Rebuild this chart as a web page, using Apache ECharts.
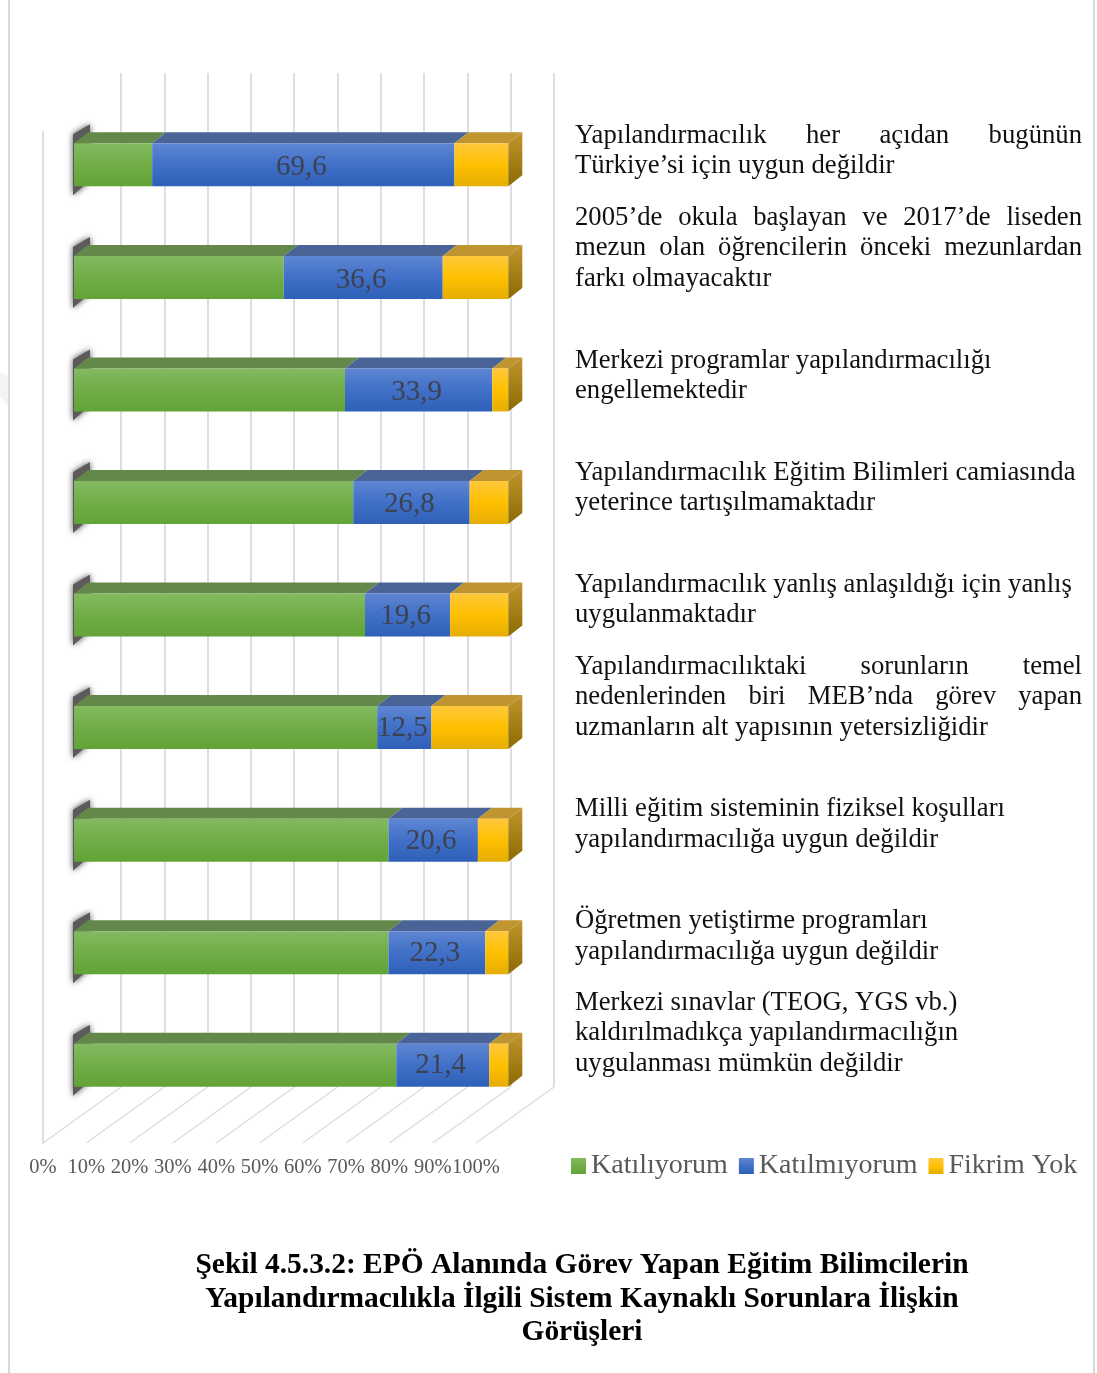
<!DOCTYPE html>
<html>
<head>
<meta charset="utf-8">
<style>
  html, body { margin: 0; padding: 0; background: #fff; }
  #main { width: 1097px; height: 1373px; }
</style>
</head>
<body>
<div id="main"></div>
<script src="https://cdn.jsdelivr.net/npm/echarts@6/dist/echarts.min.js"></script>
<script>
const categories = [
  'Yapılandırmacılık her açıdan bugünün Türkiye’si için uygun değildir',
  '2005’de okula başlayan ve 2017’de liseden mezun olan öğrencilerin önceki mezunlardan farkı olmayacaktır',
  'Merkezi programlar yapılandırmacılığı engellemektedir',
  'Yapılandırmacılık Eğitim Bilimleri camiasında yeterince tartışılmamaktadır',
  'Yapılandırmacılık yanlış anlaşıldığı için yanlış uygulanmaktadır',
  'Yapılandırmacılıktaki sorunların temel nedenlerinden biri MEB’nda görev yapan uzmanların alt yapısının yetersizliğidir',
  'Milli eğitim sisteminin fiziksel koşulları yapılandırmacılığa uygun değildir',
  'Öğretmen yetiştirme programları yapılandırmacılığa uygun değildir',
  'Merkezi sınavlar (TEOG, YGS vb.) kaldırılmadıkça yapılandırmacılığın uygulanması mümkün değildir'
]
const agree = [18, 48.3, 62.4, 64.3, 67, 69.8, 72.4, 72.4, 74.2]
const disagree = [69.6, 36.6, 33.9, 26.8, 19.6, 12.5, 20.6, 22.3, 21.4]
const noIdea = [12.4, 15.1, 3.7, 8.9, 13.4, 17.7, 7, 5.3, 4.4]
const seriesNames = ['Katılıyorum', 'Katılmıyorum', 'Fikrim Yok']
const ticks = [0, 10, 20, 30, 40, 50, 60, 70, 80, 90, 100]
const titleLines = [
  'Şekil 4.5.3.2: EPÖ Alanında Görev Yapan Eğitim Bilimcilerin',
  'Yapılandırmacılıkla İlgili Sistem Kaynaklı Sorunlara İlişkin',
  'Görüşleri'
]
// lines as broken in the figure, [text, y, justified]
const labelLines = [
  ['Yapılandırmacılık her açıdan bugünün', 135.5, true],
  ['Türkiye’si için uygun değildir', 165.5, false],
  ['2005’de okula başlayan ve 2017’de liseden', 217.5, true],
  ['mezun olan öğrencilerin önceki mezunlardan', 247.5, true],
  ['farkı olmayacaktır', 278.5, false],
  ['Merkezi programlar yapılandırmacılığı', 360.5, false],
  ['engellemektedir', 390.5, false],
  ['Yapılandırmacılık Eğitim Bilimleri camiasında', 472.5, false],
  ['yeterince tartışılmamaktadır', 502.5, false],
  ['Yapılandırmacılık yanlış anlaşıldığı için yanlış', 584.5, false],
  ['uygulanmaktadır', 614.5, false],
  ['Yapılandırmacılıktaki sorunların temel', 666.5, true],
  ['nedenlerinden biri MEB’nda görev yapan', 696.5, true],
  ['uzmanların alt yapısının yetersizliğidir', 727.5, false],
  ['Milli eğitim sisteminin fiziksel koşulları', 808.5, false],
  ['yapılandırmacılığa uygun değildir', 839.5, false],
  ['Öğretmen yetiştirme programları', 920.5, false],
  ['yapılandırmacılığa uygun değildir', 951.5, false],
  ['Merkezi sınavlar (TEOG, YGS vb.)', 1002.5, false],
  ['kaldırılmadıkça yapılandırmacılığın', 1032.5, false],
  ['uygulanması mümkün değildir', 1063.5, false]
]

const serif = '"Liberation Serif", "Times New Roman", serif'
const gridColor = '#dedede'
const labelFont = '26.7px ' + serif
const textLeft = 575
const textRight = 1082
const depthX = 14
const depthY = -11
const barHeight = 43

function vGrad(stops) {
  return new echarts.graphic.LinearGradient(0, 0, 0, 1,
    stops.map((c, i) => ({offset: i / (stops.length - 1), color: c})))
}

const palette = [
  {front: ['#84ba62', '#70ad47', '#62a336'], top: '#64884a'},
  {front: ['#5f86d2', '#4070c8', '#2f60b8'], top: '#4a6498'},
  {front: ['#ffc83c', '#ffc000', '#e5ad04'], top: '#bf9530'}
]

// cumulative stack, [start, end, category index, own value]
let rows = [agree, disagree, noIdea].map(() => [])
categories.forEach((c, i) => {
  let from = 0
  ;[agree, disagree, noIdea].forEach((arr, s) => {
    rows[s].push([from, from + arr[i], i, arr[i]])
    from += arr[i]
  })
})

function renderBar(s) {
  return function (params, api) {
    let a = api.coord([api.value(0), api.value(2)])
    let b = api.coord([api.value(1), api.value(2)])
    let top = a[1] - barHeight / 2
    let bottom = a[1] + barHeight / 2
    let children = []

    if (s === 0) {
      // dark blurred shadow sticking out at the left of the bar
      children.push({
        type: 'polygon',
        shape: {points: [[a[0] - 1, top - 9], [a[0] + 16, top - 19], [a[0] + 16, bottom - 6], [a[0] - 1, bottom + 9]]},
        style: {fill: '#5c5a5a', shadowBlur: 6, shadowColor: '#4a4a4a'}
      })
    }
    children.push({
      type: 'polygon',
      shape: {points: [[a[0], top], [b[0], top], [b[0] + depthX, top + depthY], [a[0] + depthX, top + depthY]]},
      style: {fill: palette[s].top}
    })
    children.push({
      type: 'rect',
      shape: {x: a[0], y: top, width: b[0] - a[0], height: barHeight},
      style: {fill: vGrad(palette[s].front)}
    })
    if (s === 2) {
      children.push({
        type: 'polygon',
        shape: {points: [[b[0], top], [b[0] + depthX, top + depthY], [b[0] + depthX, bottom + depthY], [b[0], bottom]]},
        style: {fill: vGrad(['#c0952e', '#8c6b02'])}
      })
    }
    if (s === 1) {
      // the labels creep upward slightly down the chart in the source
      children.push({
        type: 'text',
        style: {
          x: (a[0] + b[0]) / 2 - 2, y: a[1] + 3 - 0.35 * api.value(2),
          text: String(api.value(3)).replace('.', ','),
          fill: '#3d4250', font: '29px ' + serif,
          textAlign: 'center', textVerticalAlign: 'middle'
        }
      })
    }
    return {type: 'group', children: children}
  }
}

// floor lines run from the front edge back to the wall
function renderFloor(params, api) {
  let p = api.coord([api.value(0), 0])
  return {
    type: 'line',
    shape: {x1: p[0], y1: p[1], x2: p[0] + 78, y2: p[1] - 56},
    style: {stroke: gridColor, lineWidth: 1.5}
  }
}

function labelGraphics() {
  let ctx = document.createElement('canvas').getContext('2d')
  ctx.font = labelFont
  let items = []
  labelLines.forEach(line => {
    let base = {y: line[1], font: labelFont, fill: '#111', textVerticalAlign: 'middle'}
    if (!line[2]) {
      items.push({type: 'text', style: Object.assign({x: textLeft, text: line[0]}, base)})
      return
    }
    let words = line[0].split(' ')
    let total = words.reduce((sum, w) => sum + ctx.measureText(w).width, 0)
    let gap = (textRight - textLeft - total) / (words.length - 1)
    let x = textLeft
    words.forEach(w => {
      items.push({type: 'text', style: Object.assign({x: x, text: w}, base)})
      x += ctx.measureText(w).width + gap
    })
  })
  return items
}

const hiddenAxis = {
  axisLine: {show: false}, axisTick: {show: false},
  axisLabel: {show: false}, splitLine: {show: false}
}

let chart = echarts.init(document.getElementById('main'), null, {renderer: 'canvas'})
chart.setOption({
  animation: false,
  backgroundColor: '#fff',
  title: {
    text: titleLines.join('\n'),
    left: 582, top: 1249, textAlign: 'center', padding: 0,
    textStyle: {fontFamily: serif, fontWeight: 'bold', fontSize: 29.45, lineHeight: 33.5, color: '#000'}
  },
  legend: {
    left: 566, top: 1147, icon: 'rect',
    itemWidth: 15, itemHeight: 16, itemGap: 11,
    textStyle: {fontFamily: serif, fontSize: 28, color: '#595959'},
    data: seriesNames
  },
  grid: [
    {left: 121, width: 433, top: 73, height: 1014},
    {left: 74, width: 434.3, top: 108.6, height: 1012.9},
    {left: 43, width: 433, top: 132, height: 1011}
  ],
  xAxis: [
    Object.assign({}, hiddenAxis, {
      gridIndex: 0, type: 'value', min: 0, max: 100, interval: 10,
      splitLine: {show: true, lineStyle: {color: gridColor, width: 2}}
    }),
    Object.assign({}, hiddenAxis, {gridIndex: 1, type: 'value', min: 0, max: 100}),
    Object.assign({}, hiddenAxis, {
      gridIndex: 2, type: 'value', min: 0, max: 100, interval: 10,
      axisLabel: {
        show: true, formatter: '{value}%', margin: 14,
        fontFamily: serif, fontSize: 20.5, color: '#595959'
      }
    })
  ],
  yAxis: [
    Object.assign({}, hiddenAxis, {gridIndex: 0, type: 'value', min: 0, max: 1}),
    Object.assign({}, hiddenAxis, {gridIndex: 1, type: 'category', inverse: true, data: categories}),
    Object.assign({}, hiddenAxis, {
      gridIndex: 2, type: 'value', min: 0, max: 1,
      axisLine: {show: true, lineStyle: {color: gridColor, width: 2}}
    })
  ],
  series: [
    {
      type: 'custom', name: 'floor', xAxisIndex: 2, yAxisIndex: 2, silent: true,
      renderItem: renderFloor, data: ticks.map(t => [t]), encode: {x: 0}
    }
  ].concat(seriesNames.map((name, s) => ({
    type: 'custom', name: name, xAxisIndex: 1, yAxisIndex: 1,
    renderItem: renderBar(s),
    itemStyle: {color: vGrad(palette[s].front)},
    data: rows[s], encode: {x: [0, 1], y: 2}
  }))),
  graphic: [
    // page frame and the faint watermark corner of the scanned document
    {type: 'line', shape: {x1: 9, y1: 0, x2: 9, y2: 1373}, style: {stroke: '#d8d8d8', lineWidth: 2}},
    {type: 'line', shape: {x1: 1094, y1: 0, x2: 1094, y2: 1373}, style: {stroke: '#d8d8d8', lineWidth: 2}},
    {type: 'polygon', shape: {points: [[0, 372], [8, 377], [8, 405], [0, 397]]}, style: {fill: '#f3f3f3'}}
  ].concat(labelGraphics())
})
</script>
</body>
</html>
